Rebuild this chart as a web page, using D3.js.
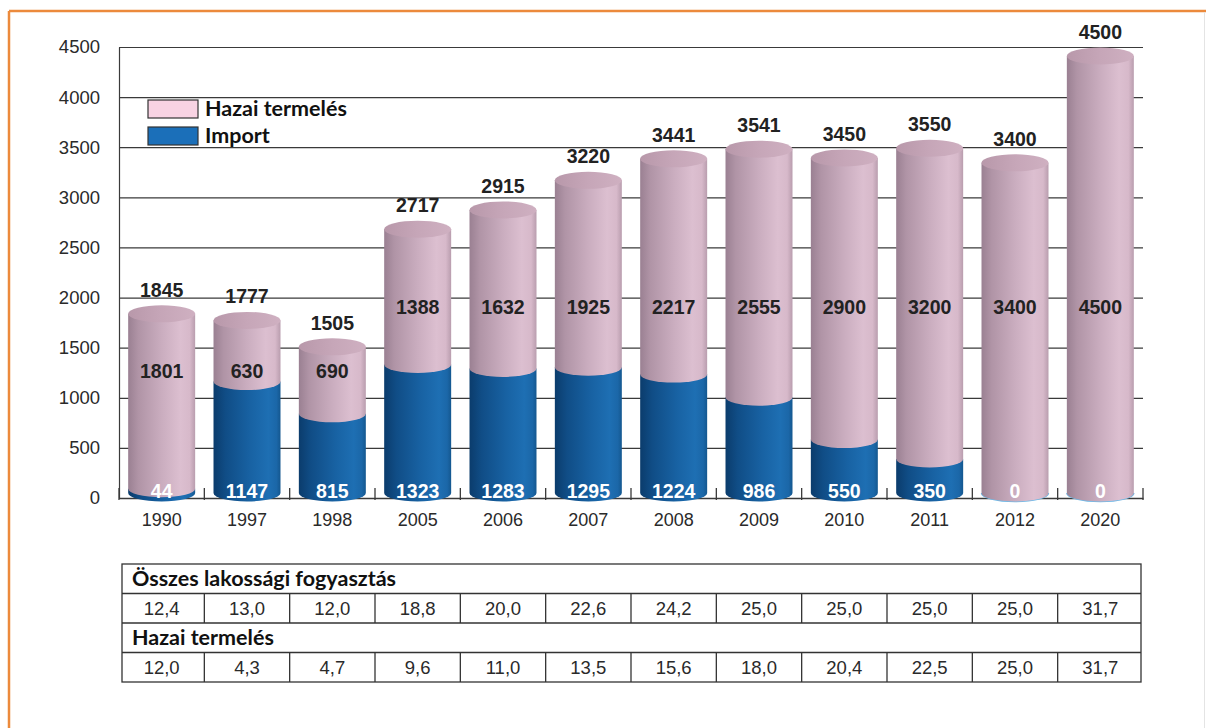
<html>
<head>
<meta charset="utf-8">
<script src="https://d3js.org/d3.v7.min.js"></script>
<style>
  body { margin: 0; background: #fff; }
  svg text { font-family: "Liberation Sans", Arial, sans-serif; }
  .calibri { font-family: Lato, "Open Sans", sans-serif !important; font-weight: bold; }
</style>
</head>
<body>
<svg id="chart" width="1206" height="728"></svg>
<script>
// data
const years = ["1990","1997","1998","2005","2006","2007","2008","2009","2010","2011","2012","2020"];
const importVals = [44, 1147, 815, 1323, 1283, 1295, 1224, 986, 550, 350, 0, 0];
const hazaiVals = [1801, 630, 690, 1388, 1632, 1925, 2217, 2555, 2900, 3200, 3400, 4500];
const totals = [1845, 1777, 1505, 2717, 2915, 3220, 3441, 3541, 3450, 3550, 3400, 4500];
const osszesRow = [12.4, 13.0, 12.0, 18.8, 20.0, 22.6, 24.2, 25.0, 25.0, 25.0, 25.0, 31.7];
const hazaiRow = [12.0, 4.3, 4.7, 9.6, 11.0, 13.5, 15.6, 18.0, 20.4, 22.5, 25.0, 31.7];
const legendLabels = ["Hazai termelés", "Import"];
const tableTitles = ["Összes lakossági fogyasztás", "Hazai termelés"];

const svg = d3.select("#chart");
const plotL = 119, plotR = 1143, plotT = 47, plotB = 498;

// frame
svg.append("line").attr("x1", 9).attr("x2", 1206).attr("y1", 11).attr("y2", 11)
   .attr("stroke", "#ec8a3c").attr("stroke-width", 2.5);
svg.append("line").attr("x1", 9).attr("x2", 9).attr("y1", 11).attr("y2", 728)
   .attr("stroke", "#ec8a3c").attr("stroke-width", 2.5);
svg.append("line").attr("x1", 1204.5).attr("x2", 1204.5).attr("y1", 12).attr("y2", 728)
   .attr("stroke", "#e4e4e4").attr("stroke-width", 1);

const x = d3.scaleBand().domain(years).range([plotL, plotR])
            .paddingInner(0.215).paddingOuter(0.1075);
const y = d3.scaleLinear().domain([0, 4500]).range([plotB, plotT]);
// cylinders sit a bit in front of the back wall
const yCyl = d3.scaleLinear().domain([0, 4500]).range([493, 56]);

// gradients
const defs = svg.append("defs");
function grad(id, stops) {
  const g = defs.append("linearGradient").attr("id", id)
                .attr("x1", 0).attr("x2", 1).attr("y1", 0).attr("y2", 0);
  stops.forEach(s => g.append("stop").attr("offset", s[0]).attr("stop-color", s[1]));
}
grad("pinkBody", [[0, "#9a8092"], [0.15, "#b094a6"], [0.5, "#caadbf"], [0.78, "#dcbfd0"], [0.92, "#d7b9ca"], [1, "#b99dae"]]);
grad("blueBody", [[0, "#0b3c6c"], [0.18, "#104d86"], [0.55, "#1862a3"], [0.82, "#1e6fb3"], [0.94, "#1b67a8"], [1, "#14578f"]]);
grad("pinkTop", [[0, "#b898aa"], [0.5, "#c6a6b8"], [1, "#cfb0c1"]]);

// y axis with gridlines
const yAxis = svg.append("g").attr("transform", `translate(${plotL},0)`)
  .call(d3.axisLeft(y).ticks(9).tickFormat(d3.format("d"))
          .tickSize(-(plotR - plotL)).tickSizeOuter(0).tickPadding(19));
yAxis.selectAll(".tick line").attr("stroke", "#3a3a3a").attr("stroke-width", 1.2);
yAxis.select(".domain").attr("stroke", "#3a3a3a").attr("stroke-width", 1.2);
yAxis.attr("font-size", 18.5).attr("font-family", null);
yAxis.selectAll("text").attr("fill", "#2a2a2a");

// x axis
const xAxis = svg.append("g").attr("transform", `translate(0,${plotB})`)
  .call(d3.axisBottom(x).tickSize(0).tickPadding(15));
xAxis.select(".domain").attr("stroke", "#3a3a3a").attr("stroke-width", 1.5);
xAxis.attr("font-size", 18).attr("font-family", null);
xAxis.selectAll("text").attr("fill", "#2a2a2a");
const edges = years.map(d => x(d) - x.step() * x.paddingInner() / 2)
                   .concat([x(years[years.length - 1]) + x.bandwidth() + x.step() * x.paddingInner() / 2]);
svg.append("g").selectAll("line").data(edges).join("line")
   .attr("x1", d => d).attr("x2", d => d).attr("y1", plotB - 10).attr("y2", plotB + 2)
   .attr("stroke", "#3a3a3a").attr("stroke-width", 1.3);

// cylinders
const ry = 8.5;
function body(x0, w, yb, yt) {
  const rx = w / 2;
  return `M${x0},${yt} L${x0},${yb} A${rx},${ry} 0 0 0 ${x0 + w},${yb} L${x0 + w},${yt} Z`;
}
const bars = svg.append("g").selectAll("g").data(years).join("g");
bars.each(function(yr, i) {
  const g = d3.select(this);
  const x0 = x(yr), w = x.bandwidth();
  const yb = yCyl(0), ym = yCyl(importVals[i]), yt = yCyl(totals[i]);
  if (importVals[i] > 0) {
    g.append("path").attr("d", body(x0, w, yb, ym)).attr("fill", "url(#blueBody)");
  } else {
    g.append("path")
     .attr("d", `M${x0},${yb} A${w / 2},${ry} 0 0 0 ${x0 + w},${yb}`)
     .attr("fill", "none").attr("stroke", "#6fb8e6").attr("stroke-width", 1.5);
  }
  g.append("path").attr("d", body(x0, w, ym, yt)).attr("fill", "url(#pinkBody)");
  g.append("ellipse").attr("cx", x0 + w / 2).attr("cy", yt).attr("rx", w / 2).attr("ry", ry)
   .attr("fill", "url(#pinkTop)");
});

// value labels
const lbl = svg.append("g").attr("font-weight", "bold").attr("font-size", 19.5).attr("text-anchor", "middle");
lbl.selectAll("text.total").data(years).join("text").attr("class", "total")
   .attr("x", d => x(d) + x.bandwidth() / 2)
   .attr("y", (d, i) => yCyl(totals[i]) - 17)
   .attr("fill", "#222").text((d, i) => totals[i]);
lbl.selectAll("text.hazai").data(years).join("text").attr("class", "hazai")
   .attr("x", d => x(d) + x.bandwidth() / 2)
   .attr("y", (d, i) => y(i < 3 ? 1265 : 1905) + 7)
   .attr("fill", "#222").text((d, i) => hazaiVals[i]);
lbl.selectAll("text.imp").data(years).join("text").attr("class", "imp")
   .attr("x", d => x(d) + x.bandwidth() / 2)
   .attr("y", plotB - 0.5)
   .attr("fill", "#fff").text((d, i) => importVals[i]);

// legend
const legend = svg.append("g").attr("transform", "translate(148,100)");
const legendFills = ["#f8d3e3", "#1b6fb9"];
legend.selectAll("rect").data(legendLabels).join("rect")
  .attr("x", 0).attr("y", (d, i) => i * 27).attr("width", 50).attr("height", 18)
  .attr("fill", (d, i) => legendFills[i]).attr("stroke", "#333").attr("stroke-width", 1.2);
legend.selectAll("text").data(legendLabels).join("text").attr("class", "calibri")
  .attr("x", 57).attr("y", (d, i) => i * 27 + 16).attr("font-size", 21.5).attr("fill", "#111")
  .text(d => d);

// table
const tLeft = 122, tRight = 1141;
const rowTops = [564, 593.5, 623, 652.5, 682];
const fmt = v => d3.format(".1f")(v).replace(".", ",");
const table = svg.append("g");
table.append("rect").attr("x", tLeft).attr("y", rowTops[0]).attr("width", tRight - tLeft)
     .attr("height", rowTops[4] - rowTops[0]).attr("fill", "none").attr("stroke", "#333").attr("stroke-width", 1.3);
[1, 2, 3].forEach(k => table.append("line").attr("x1", tLeft).attr("x2", tRight)
     .attr("y1", rowTops[k]).attr("y2", rowTops[k]).attr("stroke", "#333").attr("stroke-width", 1.3));
[osszesRow, hazaiRow].forEach((row, r) => {
  const yt = rowTops[r * 2 + 1], yb = rowTops[r * 2 + 2];
  table.append("text").attr("class", "calibri").attr("x", 132).attr("y", rowTops[r * 2] + 22)
       .attr("font-size", 21.5).attr("fill", "#111").text(tableTitles[r]);
  table.append("g").selectAll("line").data(edges.slice(1, -1)).join("line")
       .attr("x1", d => d).attr("x2", d => d).attr("y1", yt).attr("y2", yb)
       .attr("stroke", "#333").attr("stroke-width", 1.3);
  table.append("g").selectAll("text").data(years).join("text")
       .attr("x", d => x(d) + x.bandwidth() / 2).attr("y", yb - 8)
       .attr("text-anchor", "middle").attr("font-size", 18.5).attr("fill", "#2a2a2a")
       .text((d, i) => fmt(row[i]));
});
</script>
</body>
</html>
